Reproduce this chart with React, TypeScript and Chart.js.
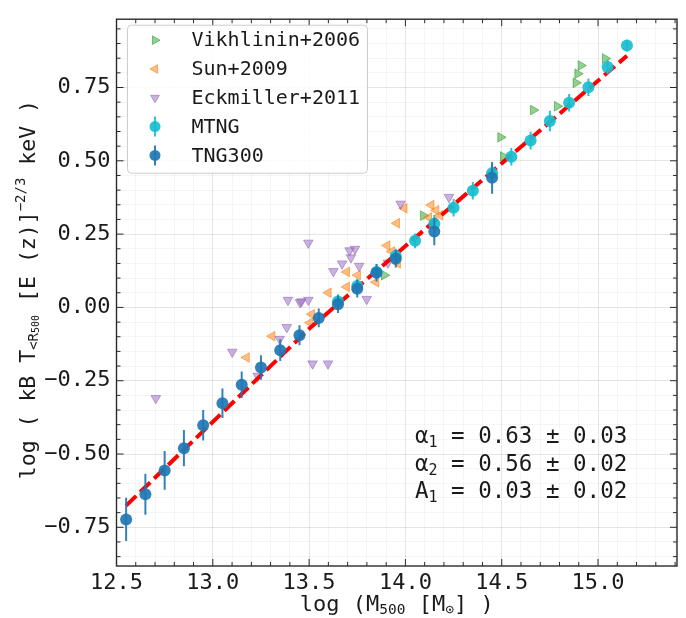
import React, { useEffect, useRef } from 'react';
import { Chart, registerables } from 'chart.js';

Chart.register(...registerables);

// ---------- axis ranges & ticks ----------
const X_MIN = 12.5;
const X_MAX = 15.41;
const Y_MIN = -0.882;
const Y_MAX = 0.983;
const X_MAJOR_STEP = 0.5;
const X_MINOR_STEP = 0.1;
const Y_MAJOR_STEP = 0.25;
const Y_MINOR_STEP = 0.05;

// ---------- data ----------
const tngMass = [12.55, 12.65, 12.75, 12.85, 12.95, 13.05, 13.15, 13.25, 13.35, 13.45, 13.55, 13.65, 13.75, 13.85, 13.95, 14.15, 14.45];
const tngT = [-0.723, -0.637, -0.556, -0.48, -0.402, -0.327, -0.264, -0.205, -0.146, -0.095, -0.036, 0.011, 0.064, 0.118, 0.166, 0.259, 0.442];
const tngErr = [0.074, 0.07, 0.066, 0.062, 0.052, 0.05, 0.045, 0.042, 0.037, 0.034, 0.032, 0.03, 0.03, 0.03, 0.03, 0.047, 0.054];

const mtngMass = [13.65, 13.75, 13.85, 13.95, 14.05, 14.15, 14.25, 14.35, 14.45, 14.55, 14.65, 14.75, 14.85, 14.95, 15.05, 15.15];
const mtngT = [0.02, 0.073, 0.121, 0.175, 0.227, 0.285, 0.34, 0.398, 0.458, 0.514, 0.569, 0.636, 0.698, 0.751, 0.82, 0.893];
const mtngErr = [0.025, 0.025, 0.025, 0.025, 0.025, 0.03, 0.03, 0.03, 0.03, 0.03, 0.03, 0.035, 0.03, 0.03, 0.025, 0.02];

const vikhMass = [13.89, 14.093, 14.494, 14.508, 14.664, 14.788, 14.885, 14.894, 14.911, 15.037];
const vikhT = [0.11, 0.313, 0.58, 0.515, 0.673, 0.686, 0.766, 0.797, 0.825, 0.849];

const sunMass = [13.175, 13.308, 13.514, 13.505, 13.6, 13.695, 13.752, 13.695, 13.847, 13.905, 13.929, 13.96, 13.955, 13.994, 14.134, 14.159, 14.122, 14.179];
const sunT = [-0.171, -0.098, -0.023, -0.052, 0.05, 0.121, 0.11, 0.07, 0.086, 0.211, 0.191, 0.15, 0.287, 0.338, 0.349, 0.331, 0.307, 0.314];

const eckMass = [12.704, 13.101, 13.233, 13.347, 13.384, 13.39, 13.453, 13.46, 13.496, 13.496, 13.518, 13.598, 13.626, 13.671, 13.71, 13.717, 13.738, 13.76, 13.799, 13.909, 13.975, 14.226];
const eckT = [-0.31, -0.152, -0.234, -0.108, -0.068, 0.025, 0.017, 0.02, 0.025, 0.22, -0.192, -0.192, 0.123, 0.149, 0.194, 0.17, 0.199, 0.141, 0.028, 0.152, 0.353, 0.376];

const fitMass = [12.55, 13.5, 15.15];
const fitT = [-0.676, -0.073, 0.858];

const seriesLabels = ['Vikhlinin+2006', 'Sun+2009', 'Eckmiller+2011', 'MTNG', 'TNG300'];

const annSymbols = ['α', 'α', 'A'];
const annSubs = ['1', '2', '1'];
const annValues = ['0.63', '0.56', '0.03'];
const annErrors = ['0.03', '0.02', '0.02'];

// ---------- styles ----------
const FONT = "'DejaVu Sans Mono', monospace";
const TEXT = '#1a1a1a';
const C_VIKH = 'rgba(44,160,44,0.5)';
const C_VIKH_E = 'rgba(44,160,44,0.6)';
const C_SUN = 'rgba(255,127,14,0.5)';
const C_SUN_E = 'rgba(255,127,14,0.6)';
const C_ECK = 'rgba(148,103,189,0.5)';
const C_ECK_E = 'rgba(148,103,189,0.6)';
const C_MTNG = 'rgba(23,190,207,0.92)';
const C_TNG = 'rgba(31,119,180,0.92)';
const TRI_R = 5.5;
const DOT_R = 6;

function buildTicks(min: number, max: number, step: number): number[] {
  const out: number[] = [];
  const start = Math.ceil(min / step - 1e-9);
  for (let i = start; i * step <= max + 1e-9; i++) {
    out.push(Math.round(i * step * 1000) / 1000);
  }
  return out;
}
const isMajor = (v: number, step: number) => Math.abs(v / step - Math.round(v / step)) < 1e-6;

const xTickValues = buildTicks(X_MIN, X_MAX, X_MINOR_STEP);
const yTickValues = buildTicks(Y_MIN, Y_MAX, Y_MINOR_STEP);

const toPts = (xs: number[], ys: number[]) => xs.map((x, i) => ({ x, y: ys[i] }));

type Run = { t: string; s: number; dy: number };
function drawRich(ctx: CanvasRenderingContext2D, runs: Run[], x: number, y: number, align: 'center' | 'left') {
  let total = 0;
  const widths = runs.map((r) => {
    ctx.font = `${r.s}px ${FONT}`;
    const w = ctx.measureText(r.t).width;
    total += w;
    return w;
  });
  let cx = align === 'center' ? x - total / 2 : x;
  ctx.textAlign = 'left';
  ctx.textBaseline = 'middle';
  runs.forEach((r, i) => {
    ctx.font = `${r.s}px ${FONT}`;
    ctx.fillText(r.t, cx, y + r.dy);
    cx += widths[i];
  });
}

function drawTriangle(ctx: CanvasRenderingContext2D, x: number, y: number, r: number, rotDeg: number, fill: string, stroke: string) {
  let rad = (rotDeg * Math.PI) / 180;
  ctx.beginPath();
  for (let k = 0; k < 3; k++) {
    const px = x + Math.sin(rad) * r;
    const py = y - Math.cos(rad) * r;
    if (k === 0) ctx.moveTo(px, py);
    else ctx.lineTo(px, py);
    rad += (2 * Math.PI) / 3;
  }
  ctx.closePath();
  ctx.fillStyle = fill;
  ctx.fill();
  ctx.strokeStyle = stroke;
  ctx.lineWidth = 1;
  ctx.stroke();
}

function drawErrorBars(chart: any, xs: number[], ys: number[], es: number[], color: string) {
  const ctx = chart.ctx as CanvasRenderingContext2D;
  const sx = chart.scales.x;
  const sy = chart.scales.y;
  const a = chart.chartArea;
  ctx.save();
  ctx.beginPath();
  ctx.rect(a.left, a.top, a.right - a.left, a.bottom - a.top);
  ctx.clip();
  ctx.strokeStyle = color;
  ctx.lineWidth = 2;
  ctx.beginPath();
  xs.forEach((m, i) => {
    const px = sx.getPixelForValue(m);
    ctx.moveTo(px, sy.getPixelForValue(ys[i] - es[i]));
    ctx.lineTo(px, sy.getPixelForValue(ys[i] + es[i]));
  });
  ctx.stroke();
  ctx.restore();
}

const extrasPlugin = {
  id: 'extras',
  beforeDatasetDraw(chart: any, args: any) {
    if (args.index === 4) drawErrorBars(chart, mtngMass, mtngT, mtngErr, C_MTNG);
    if (args.index === 5) drawErrorBars(chart, tngMass, tngT, tngErr, C_TNG);
  },
  afterDraw(chart: any) {
    const ctx = chart.ctx as CanvasRenderingContext2D;
    const a = chart.chartArea;
    const sx = chart.scales.x;
    const sy = chart.scales.y;
    ctx.save();

    // frame
    ctx.strokeStyle = '#2a2a2a';
    ctx.lineWidth = 1.4;
    ctx.strokeRect(a.left, a.top, a.right - a.left, a.bottom - a.top);

    // inward ticks on all sides
    ctx.lineWidth = 1;
    ctx.beginPath();
    xTickValues.forEach((v) => {
      const px = sx.getPixelForValue(v);
      const len = isMajor(v, X_MAJOR_STEP) ? 7 : 4;
      ctx.moveTo(px, a.bottom);
      ctx.lineTo(px, a.bottom - len);
      ctx.moveTo(px, a.top);
      ctx.lineTo(px, a.top + len);
    });
    yTickValues.forEach((v) => {
      const py = sy.getPixelForValue(v);
      const len = isMajor(v, Y_MAJOR_STEP) ? 7 : 4;
      ctx.moveTo(a.left, py);
      ctx.lineTo(a.left + len, py);
      ctx.moveTo(a.right, py);
      ctx.lineTo(a.right - len, py);
    });
    ctx.stroke();

    // legend
    const lx = a.left + 11;
    const ly = a.top + 6;
    const lw = 240;
    const lh = 148;
    ctx.beginPath();
    (ctx as any).roundRect(lx, ly, lw, lh, 4);
    ctx.fillStyle = 'rgba(255,255,255,0.85)';
    ctx.fill();
    ctx.strokeStyle = 'rgba(200,200,200,0.9)';
    ctx.lineWidth = 1;
    ctx.stroke();
    const mx = lx + 27.5;
    const tx = lx + 64;
    const rowY = (i: number) => ly + 15 + i * 28.8;
    drawTriangle(ctx, mx, rowY(0), 5, 90, C_VIKH, C_VIKH_E);
    drawTriangle(ctx, mx, rowY(1), 5, -90, C_SUN, C_SUN_E);
    drawTriangle(ctx, mx, rowY(2), 5, 180, C_ECK, C_ECK_E);
    [C_MTNG, C_TNG].forEach((c, k) => {
      const y = rowY(3 + k);
      ctx.strokeStyle = c;
      ctx.lineWidth = 2;
      ctx.beginPath();
      ctx.moveTo(mx, y - 10);
      ctx.lineTo(mx, y + 10);
      ctx.stroke();
      ctx.fillStyle = c;
      ctx.beginPath();
      ctx.arc(mx, y, 5.5, 0, Math.PI * 2);
      ctx.fill();
    });
    ctx.fillStyle = TEXT;
    ctx.font = `20px ${FONT}`;
    ctx.textAlign = 'left';
    ctx.textBaseline = 'middle';
    seriesLabels.forEach((t, i) => ctx.fillText(t, tx, rowY(i) + 1));

    // annotation
    ctx.fillStyle = TEXT;
    annSymbols.forEach((sym, i) => {
      drawRich(
        ctx,
        [
          { t: sym, s: 22.5, dy: 0 },
          { t: annSubs[i], s: 15, dy: 6 },
          { t: ` = ${annValues[i]} ± ${annErrors[i]}`, s: 22.5, dy: 0 },
        ],
        a.left + 298.5,
        a.top + 418 + i * 27.5,
        'left'
      );
    });

    // x title
    drawRich(
      ctx,
      [
        { t: 'log (M', s: 22, dy: 0 },
        { t: '500', s: 14.5, dy: 5 },
        { t: ' [M', s: 22, dy: 0 },
        { t: '⊙', s: 14.5, dy: 5 },
        { t: '] )', s: 22, dy: 0 },
      ],
      (a.left + a.right) / 2,
      605,
      'center'
    );

    // y title (rotated)
    ctx.translate(29, (a.top + a.bottom) / 2 - 3);
    ctx.rotate(-Math.PI / 2);
    drawRich(
      ctx,
      [
        { t: 'log ( kB T', s: 21.5, dy: 0 },
        { t: '<R', s: 14, dy: 5 },
        { t: '500', s: 10, dy: 7 },
        { t: ' [E (z)]', s: 21.5, dy: 0 },
        { t: '−2/3', s: 14, dy: -8 },
        { t: ' keV )', s: 21.5, dy: 0 },
      ],
      0,
      0,
      'center'
    );
    ctx.restore();
  },
};

export default function App() {
  const ref = useRef<HTMLCanvasElement | null>(null);
  useEffect(() => {
    if (!ref.current) return;
    const chart = new Chart(ref.current, {
      type: 'scatter',
      data: {
        datasets: [
          {
            label: seriesLabels[0],
            data: toPts(vikhMass, vikhT),
            pointStyle: 'triangle',
            rotation: 90,
            pointRadius: TRI_R,
            backgroundColor: C_VIKH,
            borderColor: C_VIKH_E,
            borderWidth: 1,
            order: 6,
          },
          {
            label: seriesLabels[1],
            data: toPts(sunMass, sunT),
            pointStyle: 'triangle',
            rotation: -90,
            pointRadius: TRI_R,
            backgroundColor: C_SUN,
            borderColor: C_SUN_E,
            borderWidth: 1,
            order: 5,
          },
          {
            label: seriesLabels[2],
            data: toPts(eckMass, eckT),
            pointStyle: 'triangle',
            rotation: 180,
            pointRadius: TRI_R,
            backgroundColor: C_ECK,
            borderColor: C_ECK_E,
            borderWidth: 1,
            order: 4,
          },
          {
            label: 'fit',
            data: toPts(fitMass, fitT),
            showLine: true,
            pointRadius: 0,
            borderColor: '#ff0000',
            borderWidth: 4,
            borderDash: [14, 5.5],
            order: 3,
          } as any,
          {
            label: seriesLabels[3],
            data: toPts(mtngMass, mtngT),
            pointStyle: 'circle',
            pointRadius: DOT_R,
            backgroundColor: C_MTNG,
            borderWidth: 0,
            order: 2,
          },
          {
            label: seriesLabels[4],
            data: toPts(tngMass, tngT),
            pointStyle: 'circle',
            pointRadius: DOT_R,
            backgroundColor: C_TNG,
            borderWidth: 0,
            order: 1,
          },
        ],
      },
      options: {
        animation: false,
        responsive: false,
        devicePixelRatio: 1,
        layout: { padding: { top: 14, right: 9, left: 0, bottom: 0 } },
        plugins: { legend: { display: false }, tooltip: { enabled: false } },
        scales: {
          x: {
            type: 'linear',
            min: X_MIN,
            max: X_MAX,
            afterBuildTicks: (scale: any) => {
              scale.ticks = xTickValues.map((v) => ({ value: v }));
            },
            afterFit: (scale: any) => {
              scale.height = 52;
            },
            border: { display: false },
            grid: {
              drawTicks: false,
              lineWidth: 1,
              color: (c: any) =>
                c.tick && isMajor(c.tick.value, X_MAJOR_STEP) ? 'rgba(0,0,0,0.10)' : 'rgba(0,0,0,0.04)',
            },
            ticks: {
              autoSkip: false,
              maxRotation: 0,
              minRotation: 0,
              padding: 4,
              color: TEXT,
              font: { family: FONT, size: 22 },
              callback: (v: any) => (isMajor(Number(v), X_MAJOR_STEP) ? Number(v).toFixed(1) : ''),
            },
          },
          y: {
            type: 'linear',
            min: Y_MIN,
            max: Y_MAX,
            afterBuildTicks: (scale: any) => {
              scale.ticks = yTickValues.map((v) => ({ value: v }));
            },
            afterFit: (scale: any) => {
              scale.width = 116.5;
            },
            border: { display: false },
            grid: {
              drawTicks: false,
              lineWidth: 1,
              color: (c: any) =>
                c.tick && isMajor(c.tick.value, Y_MAJOR_STEP) ? 'rgba(0,0,0,0.10)' : 'rgba(0,0,0,0.04)',
            },
            ticks: {
              autoSkip: false,
              padding: 6,
              color: TEXT,
              font: { family: FONT, size: 22 },
              callback: (v: any) =>
                isMajor(Number(v), Y_MAJOR_STEP) ? Number(v).toFixed(2).replace('-', '−') : '',
            },
          },
        },
      },
      plugins: [extrasPlugin],
    } as any);
    return () => chart.destroy();
  }, []);

  return (
    <div style={{ position: 'absolute', left: 0, top: 0, width: 686, height: 618, background: '#fff' }}>
      <canvas ref={ref} width={686} height={618} style={{ display: 'block', width: 686, height: 618 }} />
    </div>
  );
}
